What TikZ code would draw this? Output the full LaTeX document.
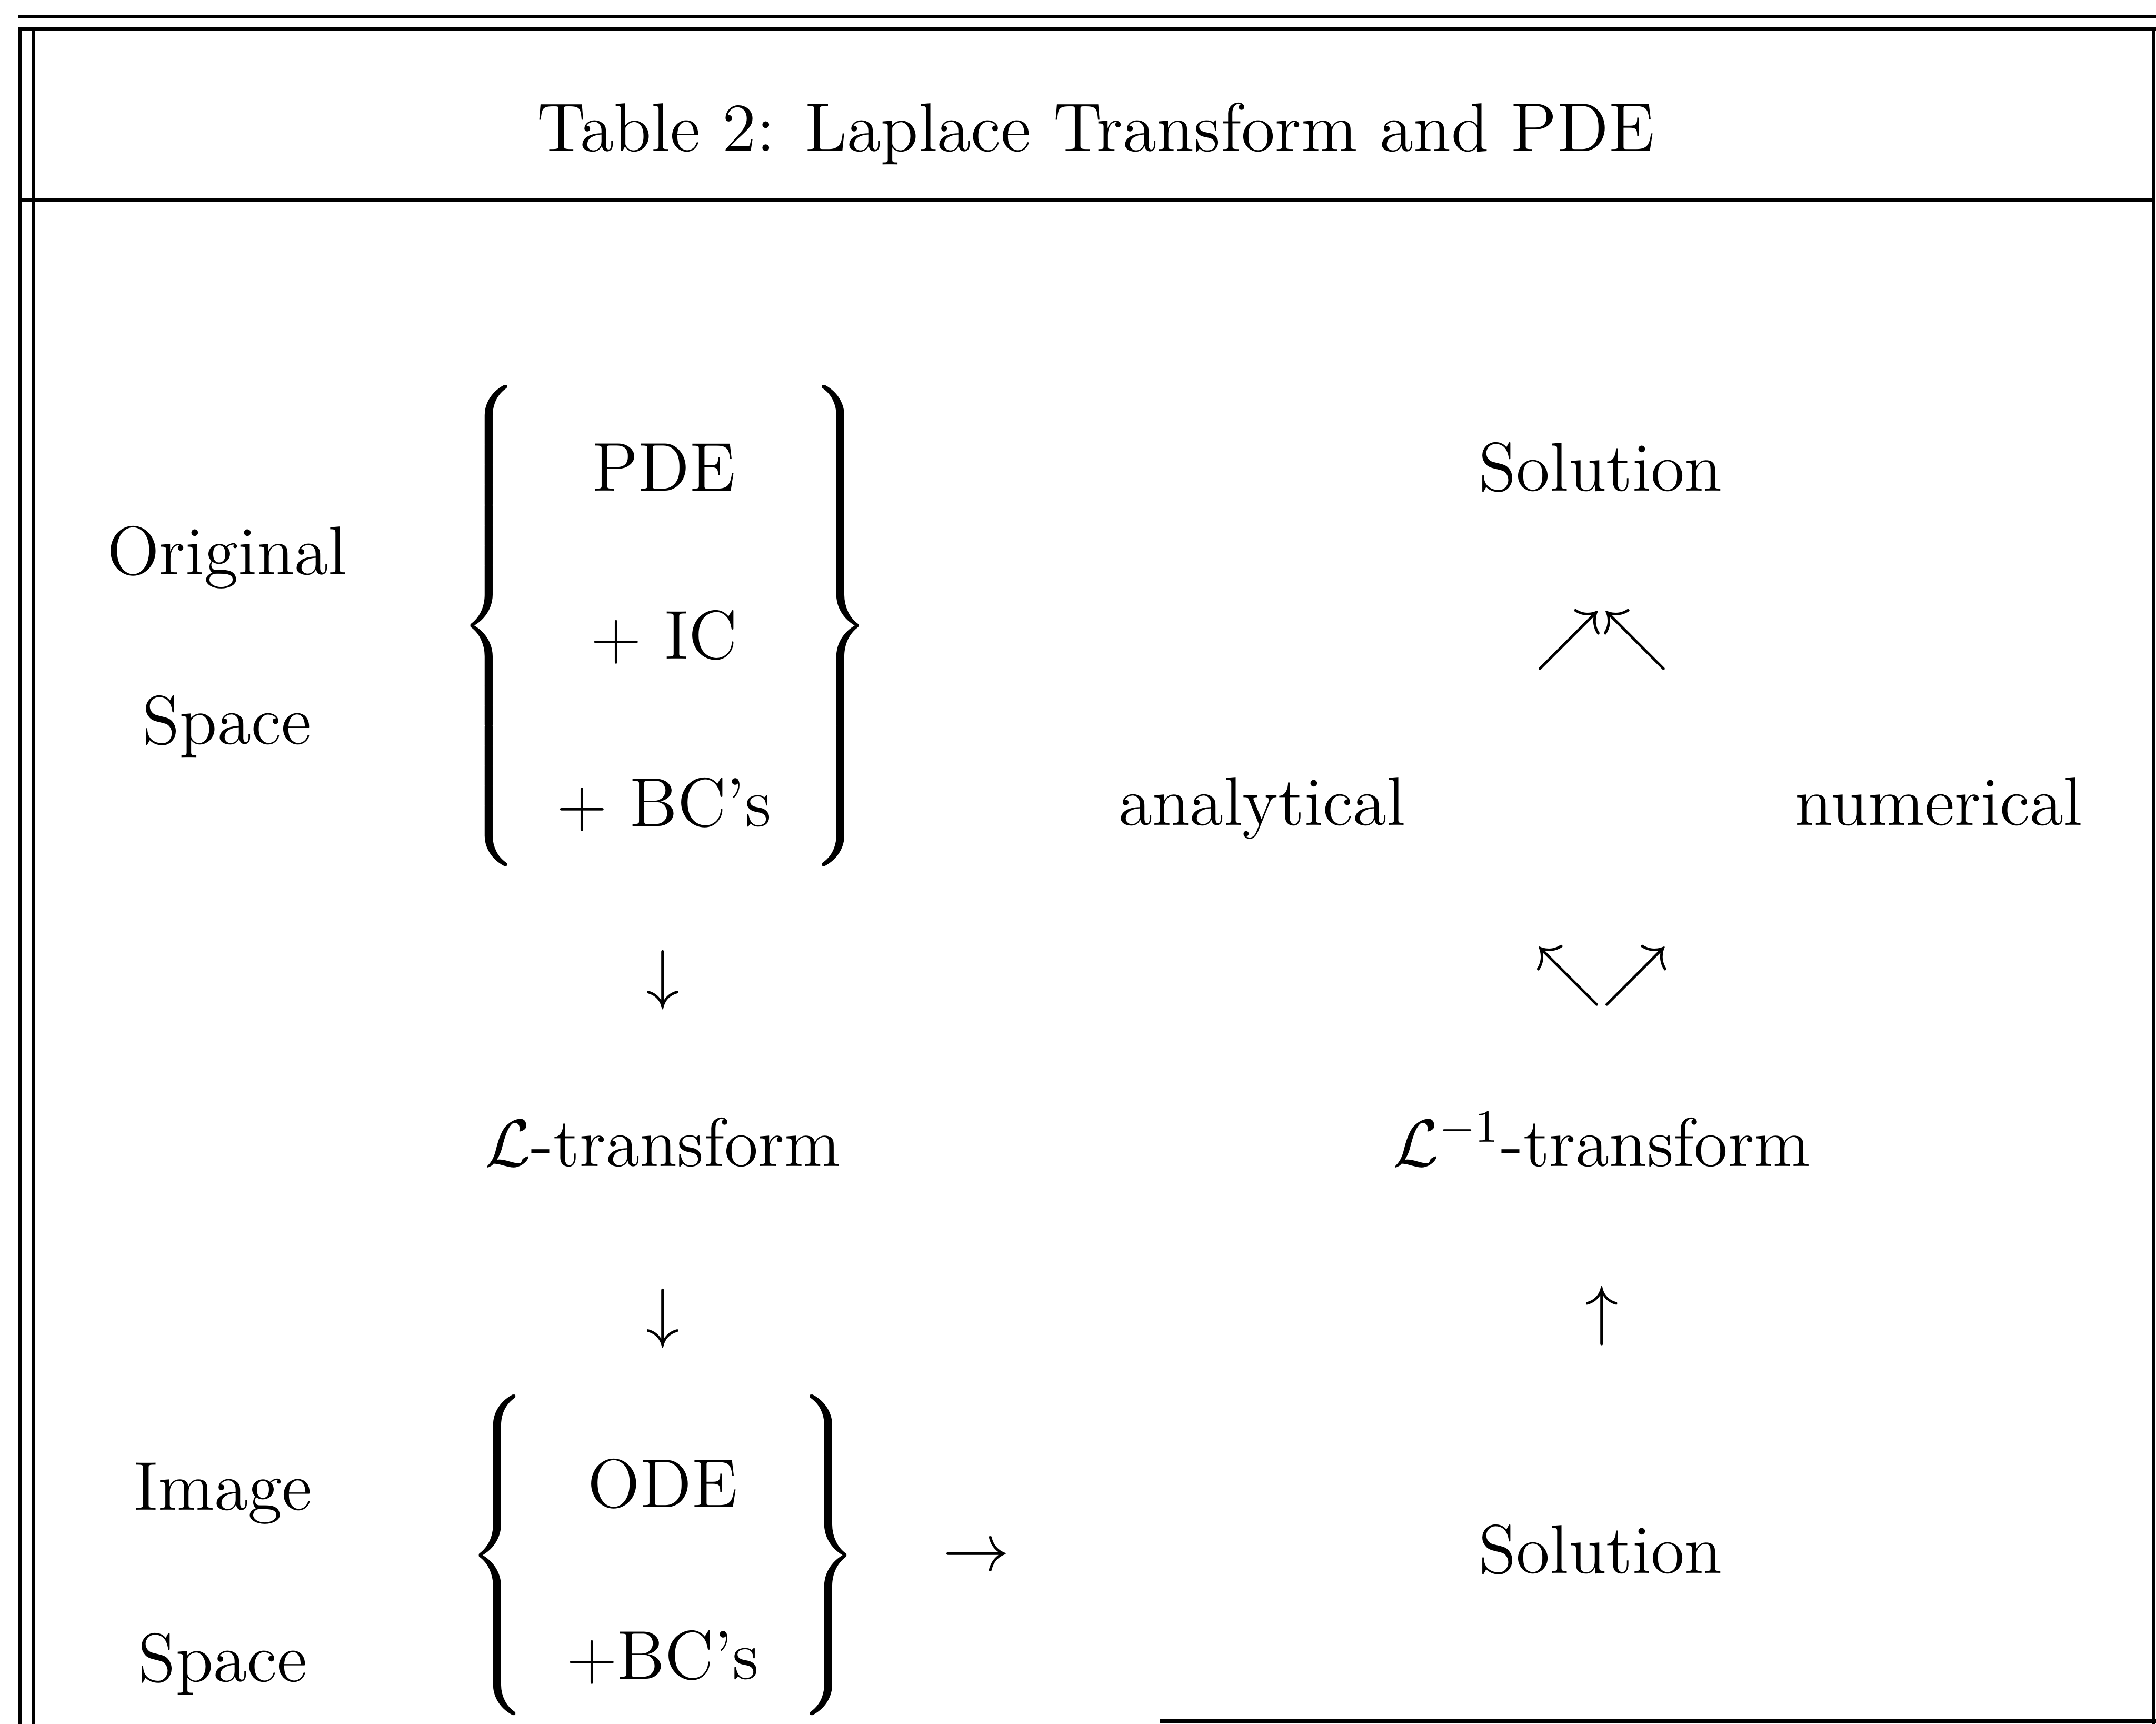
\documentclass[tikz,border=0pt]{standalone}
\usepackage{amsmath}
\delimitershortfall=0pt
\delimiterfactor=1000
\nulldelimiterspace=0pt
\newcommand{\bracestrut}[1]{\vcenter{\hbox{\rule{0pt}{#1}}}}
\begin{document}
\begin{tikzpicture}[x=0.2963pt,y=-0.2963pt,
  every node/.style={inner sep=0pt, outer sep=0pt, font=\fontsize{14.85}{17.8}\selectfont},
  lbl/.style={anchor=base},
  rule/.style={line width=0.8pt, line cap=rect}]
\useasboundingbox (0,0) rectangle (1568,1253.4);

% frame
\draw[rule] (14.8,12.2) -- (1568,12.2);
\draw[rule] (1568,21.1) -- (14.2,21.1) -- (14.2,1254);
\draw[rule] (24.3,21.1) -- (24.3,1254);
\draw[rule] (1566.3,21.1) -- (1566.3,1254);
\draw[rule] (14.2,145.1) -- (1566.3,145.1);
\draw[rule] (845,1251.5) -- (1568,1251.5);

% title
\node[lbl] (title) at (797,110) {Table 2: Laplace Transform and PDE};

% left labels
\node[lbl] (orig) at (165,418) {Original};
\node[lbl] (space1) at (165,541) {Space};
\node[lbl] (image) at (162,1098) {Image};
\node[lbl] (space2) at (162,1223) {Space};

% upper brace group
\node[anchor=west] (bl1) at (334,455) {$\left\{\bracestrut{97pt}\right.$};
\node[anchor=east] (br1) at (633,455) {$\left.\bracestrut{97pt}\right\}$};
\node[lbl] (pde) at (483,357) {PDE};
\node[lbl] (ic) at (483,479) {$+$ IC};
\node[lbl] (bc1) at (483,601) {$+$ BC's};

% left column arrows
\node[lbl] (d1) at (482,725) {$\downarrow$};
\node[lbl] (lt) at (482,848) {$\mathcal{L}$-transform};
\node[lbl] (d2) at (482,971) {$\downarrow$};

% lower brace group
\node[anchor=west] (bl2) at (340,1131) {$\left\{\bracestrut{63pt}\right.$};
\node[anchor=east] (br2) at (624,1131) {$\left.\bracestrut{63pt}\right\}$};
\node[lbl] (ode) at (482,1096) {ODE};
\node[lbl] (bc2) at (482,1221) {$+$BC's};

\node[lbl] (ra) at (710,1142) {$\rightarrow$};

% right column
\node[lbl] (sol1) at (1164,357) {Solution};
\node[lbl] (up2) at (1165,478) {$\nearrow\nwarrow$};
\node[lbl] (ana) at (918,600) {analytical};
\node[lbl] (num) at (1410,600) {numerical};
\node[lbl] (dn2) at (1165,722) {$\nwarrow\nearrow$};
\node[lbl] (ilt) at (1165,848) {$\mathcal{L}^{-1}$-transform};
\node[lbl] (u1) at (1165,969) {$\uparrow$};
\node[lbl] (sol2) at (1164,1144) {Solution};
\end{tikzpicture}
\end{document}
